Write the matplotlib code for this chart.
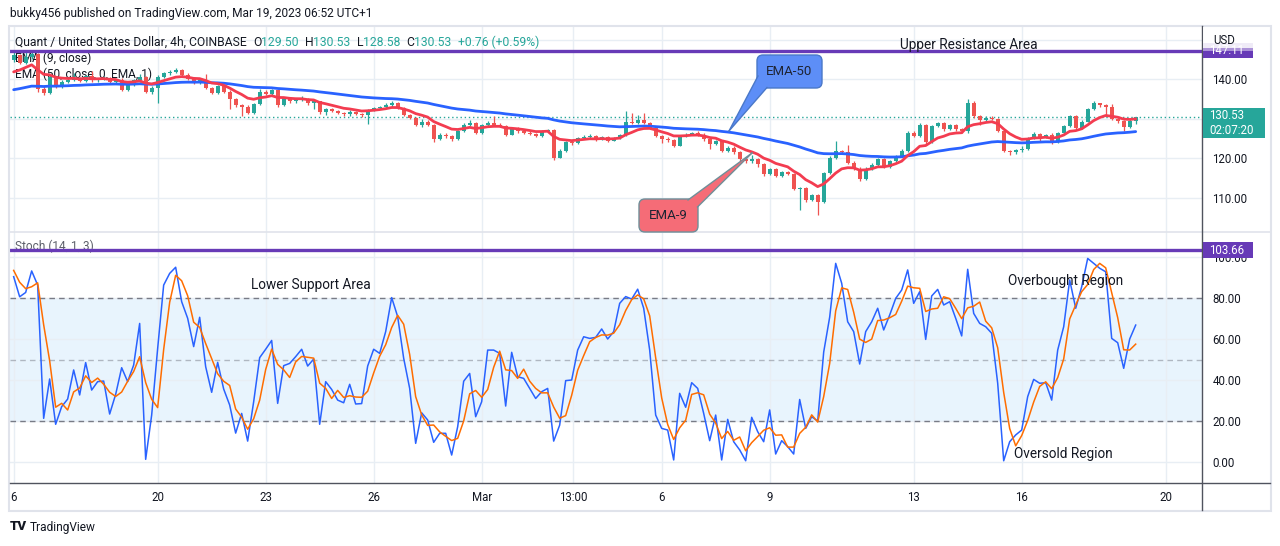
#!/usr/bin/env python3
"""QNT/USD 4h TradingView snapshot: candles with EMA 9/50 and a Stoch (14, 1, 3) pane."""

from __future__ import annotations

import matplotlib

matplotlib.use("Agg")

import matplotlib.pyplot as plt
import matplotlib.transforms as mtransforms
import numpy as np
import pandas as pd
from matplotlib.lines import Line2D
from matplotlib.patches import FancyBboxPatch, Polygon, Rectangle

FIG_W, FIG_H = 1280, 546

# 4h bars from 16 Feb 2023, one row per day
FIRST_OPEN = 145.0
CLOSES = [
    146.2, 144.2, 145.6, 146.3, 137.5, 136.6,
    140.5, 138.2, 139.4, 139.8, 140.4, 139.5,
    140.8, 139.7, 140.1, 140.4, 139.2, 139.8,
    137.4, 138.6, 139.7, 140.6, 136.8, 137.9,
    140.7, 141.5, 141.9, 142.3, 141.2, 140.0,
    139.0, 139.9, 137.8, 136.6, 138.2, 136.9,
    134.9, 133.5, 133.1, 131.5, 133.8, 136.8,
    136.3, 137.2, 133.6, 135.3, 134.4, 134.7,
    135.0, 134.0, 134.4, 131.6, 132.5, 132.0,
    131.5, 131.1, 131.8, 131.2, 130.9, 132.3,
    132.7, 133.0, 133.4, 134.1, 132.8, 131.0,
    130.2, 128.5, 129.3, 128.5, 124.8, 126.0,
    125.6, 124.8, 126.9, 128.5, 129.0, 126.4,
    128.5, 129.0, 128.5, 128.1, 126.0, 127.3,
    126.9, 126.5, 126.1, 125.7, 126.8, 127.2,
    120.2, 121.9, 124.0, 123.8, 125.2, 125.4,
    125.6, 124.8, 125.3, 124.5, 125.2, 125.8,
    129.3, 128.9, 129.8, 128.9, 127.7, 125.6,
    124.8, 124.6, 123.2, 125.6, 126.0, 126.4,
    126.0, 124.8, 123.6, 124.4, 121.9, 122.7,
    121.5, 119.8, 119.3, 119.7, 118.6, 116.1,
    117.3, 115.6, 116.5, 116.1, 112.3, 112.5,
    109.4, 110.6, 109.0, 116.2, 120.2, 121.9,
    121.6, 118.8, 117.4, 114.7, 117.4, 118.4,
    119.8, 117.9, 119.2, 120.6, 121.9, 126.4,
    125.6, 128.5, 124.0, 128.1, 128.9, 127.3,
    128.5, 127.3, 126.8, 134.1, 130.6, 129.7,
    130.3, 130.0, 126.9, 121.9, 121.5, 122.1,
    122.4, 125.2, 126.2, 125.4, 125.9, 124.0,
    126.4, 128.1, 130.6, 127.7, 129.3, 132.4,
    133.9, 133.4, 132.9, 129.9, 129.4, 128.0,
    129.5, 130.53,
]
HIGHS = [
    146.9, 146.5, 147.0, 147.3, 146.6, 138.3,
    141.0, 140.8, 139.9, 140.2, 141.5, 140.7,
    141.2, 142.0, 140.4, 140.9, 140.6, 140.1,
    140.2, 139.0, 140.0, 141.3, 140.9, 138.2,
    141.1, 141.8, 142.3, 142.8, 142.6, 141.5,
    140.3, 140.2, 141.3, 138.0, 138.5, 138.6,
    137.2, 135.2, 133.8, 133.4, 134.1, 137.6,
    137.3, 137.6, 137.5, 135.6, 135.6, 135.0,
    135.8, 135.2, 134.7, 134.6, 132.8, 132.7,
    132.3, 131.8, 132.2, 132.0, 131.5, 132.6,
    133.0, 133.3, 133.9, 134.5, 134.3, 133.1,
    131.3, 130.5, 130.0, 129.6, 128.8, 126.4,
    126.3, 125.9, 127.2, 129.0, 129.8, 129.3,
    128.8, 129.4, 130.8, 128.9, 128.4, 127.6,
    127.9, 127.4, 126.8, 126.4, 127.1, 127.5,
    127.5, 122.3, 124.3, 124.6, 125.5, 125.9,
    126.1, 125.9, 125.6, 125.6, 125.5, 126.1,
    131.9, 131.4, 131.0, 131.4, 129.2, 128.0,
    126.0, 125.5, 124.9, 125.9, 126.4, 126.7,
    127.0, 126.3, 125.1, 124.7, 124.6, 123.0,
    123.0, 121.8, 120.1, 120.9, 120.0, 118.9,
    117.6, 117.6, 116.8, 116.9, 116.4, 112.8,
    112.7, 110.9, 110.9, 116.6, 120.6, 124.4,
    122.2, 123.4, 119.2, 117.7, 117.8, 118.8,
    120.2, 120.1, 119.5, 120.9, 122.3, 126.8,
    126.9, 128.9, 128.8, 128.4, 129.3, 129.2,
    128.8, 128.8, 127.6, 134.9, 134.4, 130.9,
    130.6, 130.6, 130.3, 127.2, 122.2, 122.4,
    123.2, 125.5, 126.6, 126.5, 126.2, 126.3,
    126.7, 128.5, 131.0, 130.9, 129.7, 132.8,
    134.4, 134.0, 133.7, 133.8, 130.2, 129.7,
    129.9, 130.53,
]
LOWS = [
    144.3, 143.8, 143.9, 145.2, 136.8, 135.9,
    136.3, 137.8, 137.9, 139.0, 139.5, 139.2,
    139.3, 139.4, 139.3, 139.8, 138.9, 138.8,
    137.0, 137.0, 138.4, 139.4, 136.5, 136.4,
    134.0, 140.4, 141.2, 141.6, 140.9, 139.7,
    138.7, 138.7, 137.5, 136.2, 136.3, 136.5,
    132.4, 133.1, 130.6, 131.1, 131.2, 133.5,
    135.9, 135.8, 133.0, 133.3, 134.0, 134.1,
    134.4, 133.4, 132.6, 131.2, 131.0, 131.7,
    131.1, 130.6, 130.8, 130.9, 130.5, 128.6,
    132.0, 132.5, 132.8, 133.1, 132.5, 130.7,
    129.9, 128.1, 128.0, 128.2, 124.2, 124.6,
    125.2, 124.4, 124.6, 126.6, 128.2, 126.1,
    126.2, 128.3, 128.2, 127.8, 125.6, 125.8,
    126.5, 126.1, 125.8, 125.4, 125.5, 126.6,
    119.5, 120.0, 121.7, 123.4, 123.6, 125.0,
    125.1, 124.5, 124.6, 124.2, 124.3, 125.0,
    125.6, 128.6, 128.7, 128.6, 127.4, 125.3,
    123.8, 124.2, 122.9, 123.0, 125.3, 125.8,
    125.7, 124.5, 122.4, 123.3, 121.5, 121.6,
    121.2, 119.4, 118.9, 118.7, 117.9, 115.6,
    115.8, 115.2, 115.3, 115.8, 111.9, 106.8,
    109.0, 109.1, 105.6, 108.7, 115.9, 119.9,
    121.2, 118.5, 117.0, 114.2, 114.4, 117.1,
    118.1, 117.6, 117.6, 118.9, 120.4, 121.7,
    125.3, 125.3, 123.6, 123.8, 127.8, 127.0,
    127.1, 127.0, 126.4, 126.5, 130.3, 128.4,
    129.4, 129.7, 126.6, 121.6, 120.8, 121.2,
    121.6, 122.2, 125.0, 124.2, 125.1, 123.7,
    123.8, 126.2, 127.9, 127.4, 127.5, 129.1,
    132.2, 133.0, 130.8, 129.6, 129.0, 127.0,
    127.7, 128.58,
]
STOCH_K_PRIOR = [98.0, 92.0]
STOCH_K = [
    90.4, 80.6, 82.7, 93.2, 86.3, 21.3,
    40.5, 18.4, 27.0, 30.7, 44.9, 32.7,
    48.5, 35.1, 39.2, 39.5, 23.4, 33.0,
    46.0, 39.2, 47.3, 67.6, 1.3, 22.9,
    55.4, 86.3, 92.0, 95.0, 78.2, 70.1,
    56.3, 70.6, 46.5, 34.0, 48.6, 35.6,
    27.8, 14.1, 23.7, 10.2, 29.4, 50.9,
    55.0, 59.3, 28.6, 47.0, 48.1, 51.4,
    55.0, 46.8, 50.2, 18.4, 39.2, 35.4,
    30.2, 28.9, 37.9, 28.3, 28.5, 46.8,
    55.0, 53.0, 63.6, 80.2, 70.9, 50.6,
    35.9, 9.1, 24.0, 20.5, 9.6, 14.0,
    14.0, 3.4, 17.2, 39.4, 43.2, 22.1,
    29.4, 54.6, 54.6, 53.0, 27.3, 53.5,
    41.6, 40.8, 35.9, 31.0, 34.3, 35.9,
    10.2, 18.0, 39.7, 40.0, 54.6, 61.1,
    60.3, 60.8, 64.9, 60.0, 63.6, 77.4,
    80.7, 79.5, 84.3, 75.0, 54.6, 22.9,
    16.4, 15.6, 1.0, 33.5, 26.7, 38.7,
    35.9, 23.7, 10.4, 22.9, 1.0, 20.8,
    9.9, 5.9, 0.6, 21.8, 14.8, 9.9,
    25.4, 3.9, 10.4, 7.5, 3.9, 30.5,
    16.4, 22.1, 20.0, 53.6, 70.7, 96.9,
    87.2, 68.4, 63.6, 47.8, 63.6, 68.4,
    75.0, 64.4, 71.7, 79.8, 83.9, 93.7,
    77.4, 83.1, 59.8, 81.0, 84.2, 76.6,
    78.2, 70.1, 61.5, 94.0, 72.5, 67.6,
    66.0, 62.8, 38.4, 0.6, 9.9, 13.2,
    15.6, 31.9, 40.3, 38.4, 38.7, 30.2,
    54.6, 66.0, 88.8, 75.0, 85.5, 99.3,
    96.9, 94.5, 92.8, 60.3, 58.2, 45.7,
    60.0, 66.8,
]
EMA9_SEED = 140.8
EMA50_SEED = 137.0
LAST_PRICE = 130.53
RESISTANCE = 147.11
STOCH_LEVEL = 103.66

TIME_TICKS = [0, 24, 42, 60, 78, 93.25, 108, 126, 150, 168, 192]
TIME_LABELS = ["6", "20", "23", "26", "Mar", "13:00", "6", "9", "13", "16", "20"]
# 130.00 and 150.00 sit under the price tag / currency label, so only their grid lines show
PRICE_TICKS = [110, 120, 130, 140, 150]
PRICE_LABELS = ["110.00", "120.00", "", "140.00", ""]
STOCH_TICKS = [0, 20, 40, 60, 80, 100]
STOCH_LABELS = ["0.00", "20.00", "40.00", "60.00", "80.00", "100.00"]

UP = "#26a69a"
DOWN = "#ef5350"
EMA9_COLOR = "#f33c50"
EMA50_COLOR = "#2962ff"
K_COLOR = "#2962ff"
D_COLOR = "#ff6d00"
PURPLE = "#673ab7"
GRID = "#e8eef4"
TEXT = "#131722"
AXIS = "#50535e"
FRAME = "#e0e3eb"

plt.rcParams["font.family"] = ["Roboto", "DejaVu Sans"]


def px_axes(fig: plt.Figure, left: float, top: float, right: float, bottom: float):
    return fig.add_axes([left / FIG_W, 1 - bottom / FIG_H, (right - left) / FIG_W, (bottom - top) / FIG_H])


def style_pane(ax, ylim, ticks, labels, show_time: bool) -> None:
    ax.set_xlim(-0.61, 198.05)
    ax.set_ylim(*ylim)
    ax.set_facecolor("white")
    ax.yaxis.tick_right()
    ax.set_yticks(ticks, labels=labels)
    ax.set_xticks(TIME_TICKS, labels=TIME_LABELS if show_time else [])
    ax.tick_params(axis="y", length=0, pad=7.5, labelsize=8.3, labelcolor=TEXT)
    ax.tick_params(axis="x", length=0, pad=6, labelsize=8.3, labelcolor=TEXT)
    ax.grid(True, color=GRID, lw=1, zorder=0)
    ax.set_axisbelow(True)
    for side in ("top", "bottom", "left", "right"):
        ax.spines[side].set_visible(False)


def text_runs(fig, tr, x: float, y: float, runs, size: float) -> None:
    renderer = fig.canvas.get_renderer()
    for text, color in runs:
        t = fig.text(x, y, text, transform=tr, color=color, fontsize=size, va="center", ha="left", zorder=4)
        x += t.get_window_extent(renderer).width


def callout(fig, tr, box, base, tip, fc, ec, label) -> None:
    left, top, width, height = box
    fig.add_artist(FancyBboxPatch((left, top), width, height, boxstyle="round,pad=0,rounding_size=6",
                                  transform=tr, fc=fc, ec=ec, lw=1, zorder=5))
    fig.add_artist(Polygon([base[0], base[1], tip], closed=True, transform=tr, fc=fc, ec="none", zorder=6))
    for pt in base:
        fig.add_artist(Line2D([pt[0], tip[0]], [pt[1], tip[1]], transform=tr, color=ec, lw=1, zorder=6))
    fig.text(left + width / 2, top + height / 2, label, transform=tr, color="#1f2433",
             fontsize=9.5, ha="center", va="center", zorder=7)


def price_tag(fig, tr, left, top, right, bottom, color, lines, size=8.3) -> None:
    fig.add_artist(Rectangle((left, top), right - left, bottom - top, transform=tr, fc=color, ec="none", zorder=5))
    step = (bottom - top) / len(lines)
    for k, line in enumerate(lines):
        fig.text(left + 6, top + step * (k + 0.5), line, transform=tr, color="white",
                 fontsize=size, ha="left", va="center", zorder=6)


def main() -> int:
    closes = np.asarray(CLOSES)
    highs = np.asarray(HIGHS)
    lows = np.asarray(LOWS)
    opens = np.r_[FIRST_OPEN, closes[:-1]]
    x = np.arange(len(closes))

    ema9 = pd.Series(np.r_[EMA9_SEED, closes]).ewm(span=9, adjust=False).mean().to_numpy()[1:]
    ema50 = pd.Series(np.r_[EMA50_SEED, closes]).ewm(span=50, adjust=False).mean().to_numpy()[1:]
    stoch_k = np.asarray(STOCH_K)
    stoch_d = pd.Series(np.r_[STOCH_K_PRIOR, stoch_k]).rolling(3).mean().to_numpy()[2:]

    fig = plt.figure(figsize=(FIG_W / 100, FIG_H / 100), dpi=100, facecolor="white")
    tr = mtransforms.Affine2D().scale(1 / FIG_W, -1 / FIG_H).translate(0, 1) + fig.transFigure

    # price pane
    ax = px_axes(fig, 10, 26, 1202, 232)
    style_pane(ax, (101.34, 153.49), PRICE_TICKS, PRICE_LABELS, show_time=False)
    colors = np.where(closes >= opens, UP, DOWN)
    ax.vlines(x, lows, highs, colors=colors, lw=0.9, zorder=3)
    body = np.maximum(np.abs(closes - opens), 0.12)
    ax.bar(x, body, bottom=np.minimum(opens, closes), width=0.68, color=colors, lw=0, zorder=4)
    ax.plot(x, ema50, color=EMA50_COLOR, lw=2, zorder=5, solid_capstyle="round")
    ax.plot(x, ema9, color=EMA9_COLOR, lw=2, zorder=5, solid_capstyle="round")
    ax.axhline(LAST_PRICE, color=UP, lw=1, ls=(0, (1, 2)), zorder=2)
    ax.axhline(RESISTANCE, color=PURPLE, lw=2.4, zorder=6)
    for y, label in ((58, "EMA (9, close)"), (74, "EMA (50, close, 0, EMA, 1)")):
        ax.text(15, y, label, transform=tr, color=TEXT, fontsize=8.6, va="center", zorder=1, clip_on=False)
    ax.text(969, 45, "Upper Resistance Area", transform=tr, color=TEXT, fontsize=9.8,
            ha="center", va="center", zorder=7, clip_on=False)

    # stochastic pane
    ax2 = px_axes(fig, 10, 232, 1202, 483)
    style_pane(ax2, (-10.24, 112.2), STOCH_TICKS, STOCH_LABELS, show_time=True)
    ax2.axhspan(20, 80, color="#2196f3", alpha=0.1, lw=0, zorder=0.5)
    ax2.axhline(80, color="#787b86", lw=1, ls=(0, (4, 3)), zorder=1.5)
    ax2.axhline(50, color="#787b86", lw=1, ls=(0, (4, 3)), alpha=0.5, zorder=1.5)
    ax2.axhline(20, color="#787b86", lw=1, ls=(0, (4, 3)), zorder=1.5)
    ax2.plot(x, stoch_k, color=K_COLOR, lw=1.1, zorder=3)
    ax2.plot(x, stoch_d, color=D_COLOR, lw=1.1, zorder=3)
    ax2.text(15, 246, "Stoch (14, 1, 3)", transform=tr, color="#5d606b", fontsize=8.6,
             va="center", zorder=1, clip_on=False)
    ax2.axhline(STOCH_LEVEL, color=PURPLE, lw=2.4, zorder=6)
    for cx, cy, label in ((311, 285, "Lower Support Area"), (1066, 281, "Overbought Region"),
                          (1063, 454, "Oversold Region")):
        ax2.text(cx, cy, label, transform=tr, color=TEXT, fontsize=9.8, ha="center", va="center",
                 zorder=7, clip_on=False)

    # frame and axis lines
    fig.add_artist(Rectangle((9, 26), 1262, 485, transform=tr, fc="none", ec=FRAME, lw=1.5, zorder=2))
    fig.add_artist(Line2D([10, 1270], [232, 232], transform=tr, color=FRAME, lw=1.2, zorder=2))
    fig.add_artist(Line2D([10, 1270], [483, 483], transform=tr, color=AXIS, lw=1, zorder=2))
    fig.add_artist(Line2D([1202, 1202], [26, 510], transform=tr, color=AXIS, lw=1, zorder=2))

    # header and legend
    fig.text(10, 14, "bukky456 published on TradingView.com, Mar 19, 2023 06:52 UTC+1", transform=tr,
             color=TEXT, fontsize=8.6, va="center")
    text_runs(fig, tr, 15, 42, [
        ("Quant / United States Dollar, 4h, COINBASE  ", TEXT),
        ("O", TEXT), ("129.50  ", UP), ("H", TEXT), ("130.53  ", UP),
        ("L", TEXT), ("128.58  ", UP), ("C", TEXT), ("130.53  ", UP), ("+0.76 (+0.59%)", UP),
    ], 8.7)

    # right scale tags
    price_tag(fig, tr, 1203, 43, 1253, 58, PURPLE, ["147.11"])
    fig.add_artist(Rectangle((1203, 27), 66, 21, transform=tr, fc="white", ec="none", alpha=0.9, zorder=6.5))
    fig.add_artist(Rectangle((1203, 48), 66, 3, transform=tr, fc="white", ec="none", alpha=0.45, zorder=6.5))
    fig.text(1213, 40, "USD", transform=tr, color=TEXT, fontsize=8.3, va="center", zorder=7)
    price_tag(fig, tr, 1203, 108, 1265, 138, UP, ["130.53", "02:07:20"])
    price_tag(fig, tr, 1203, 242, 1253, 258, PURPLE, ["103.66"])

    # annotation callouts
    callout(fig, tr, (757, 55, 65, 33), ((758, 76), (767, 87.5)), (729, 131), "#5d8ef7", "#4a78c8", "EMA-50")
    callout(fig, tr, (639, 199, 59, 33), ((688, 200), (697.5, 207)), (752, 153), "#f56c77", "#6f8f99", "EMA-9")

    # footer logo
    fig.text(10, 527, "TV", transform=tr, color="#131722", fontsize=9.5, fontweight="heavy", va="center")
    fig.text(30, 527, "TradingView", transform=tr, color="#131722", fontsize=8.6, va="center")

    fig.savefig("out.png", dpi=100, facecolor="white")
    plt.close(fig)
    return 0


if __name__ == "__main__":
    raise SystemExit(main())
